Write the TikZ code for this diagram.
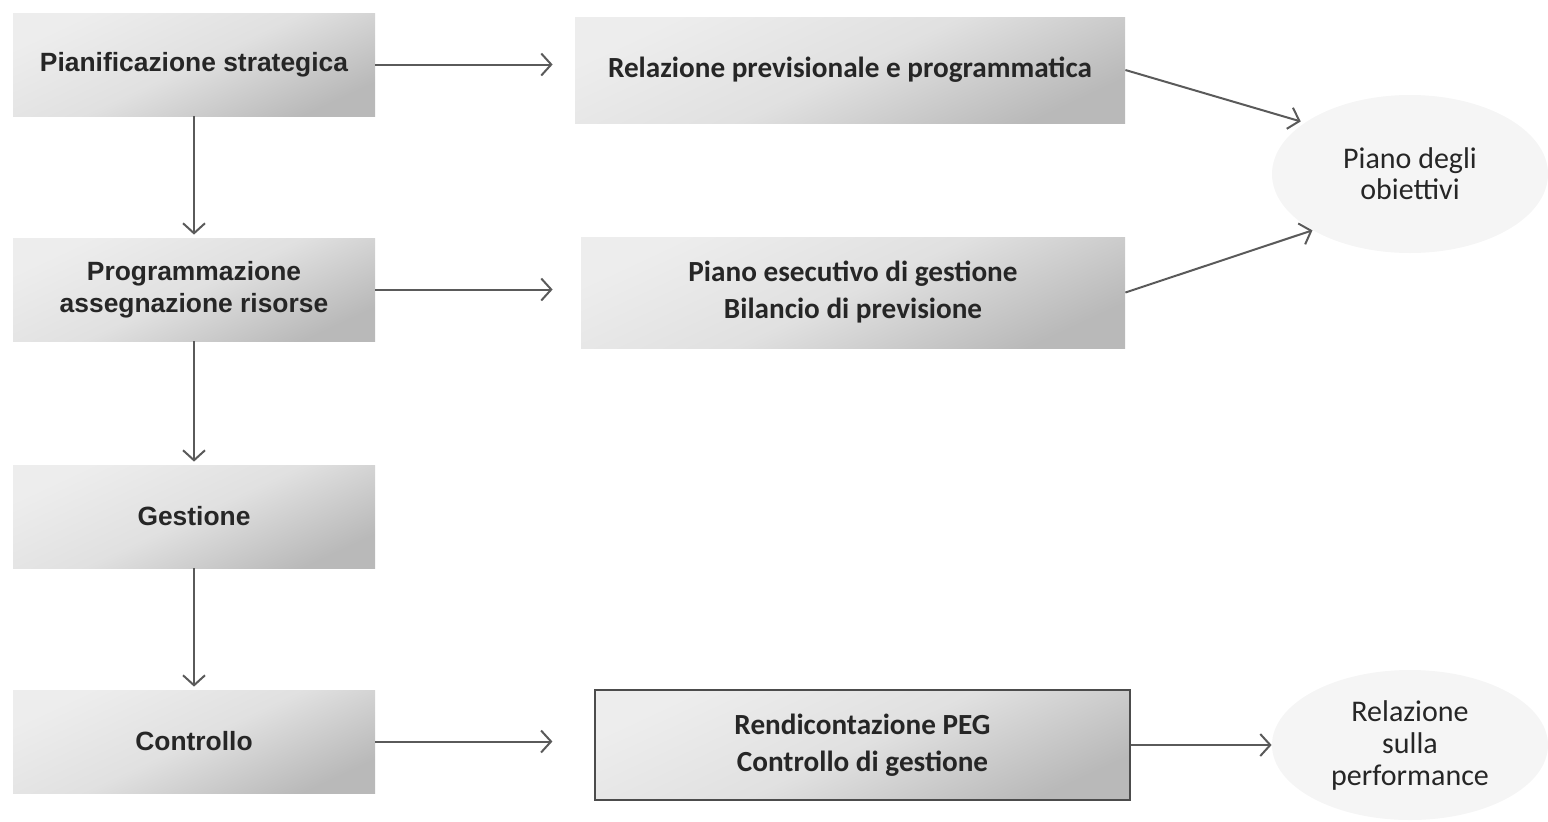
\documentclass[tikz,border=0pt]{standalone}
\usepackage{fontspec}
\usetikzlibrary{arrows.meta,shapes.geometric}
\newfontfamily\lsans{Liberation Sans}
\newfontfamily\carl{Carlito}
\definecolor{txt}{HTML}{262626}
\definecolor{arr}{HTML}{5A5A5A}
\definecolor{ellfill}{HTML}{F5F5F5}
\begin{document}
\begin{tikzpicture}[x=0.5pt,y=-0.5pt,
  gbox/.style={rectangle, inner sep=0pt, align=center, text=txt,
    top color=gray!14, bottom color=gray!55, middle color=gray!24, shading angle=25},
  lbox/.style={gbox, font=\lsans\bfseries\fontsize{13.2}{16}\selectfont, minimum width=181pt, minimum height=51.5pt},
  rbox/.style={gbox, font=\carl\bfseries\fontsize{14.6}{18.5}\selectfont},
  oval/.style={ellipse, fill=ellfill, draw=none, inner sep=0pt, align=center, text=txt,
    font=\carl\fontsize{15}{15.5}\selectfont},
  conn/.style={draw=arr, line width=1pt, -{Straight Barb[length=5pt,width=11pt,line width=1pt]}}
]
\useasboundingbox (0,0) rectangle (1548,821);
\node[lbox] (b1) at (194,64.5) {Pianificazione strategica};
\node[lbox] (b2) at (194,289.5) {Programmazione\\assegnazione risorse};
\node[lbox] (b3) at (194,516.5) {Gestione};
\node[lbox] (b4) at (194,741.5) {Controllo};
\node[rbox, minimum width=275pt, minimum height=53pt] (rel) at (850,70) {Relazione previsionale e programmatica};
\node[rbox, minimum width=272pt, minimum height=55.5pt] (peg) at (853,292.5) {Piano esecutivo di gestione\\Bilancio di previsione};
\node[rbox, draw=gray!60!black, line width=0.6pt, minimum width=267.5pt, minimum height=55pt] (rend) at (862.5,745) {Rendicontazione PEG\\Controllo di gestione};
\node[oval, minimum width=138pt, minimum height=79pt] (ell1) at (1410,174) {Piano degli\\obiettivi};
\node[oval, minimum width=138pt, minimum height=75pt, font=\carl\fontsize{15}{16}\selectfont] (ell2) at (1410,745) {Relazione\\sulla\\performance};
\draw[conn, shorten >=11pt] (b1.east) -- (b1.east -| rel.west);
\draw[conn, shorten >=14pt] (b2.east) -- (b2.east -| peg.west);
\draw[conn, shorten >=21pt] (b4.east) -- (b4.east -| rend.west);
\draw[conn, shorten >=1.5pt] (b1.south) -- (b2.north);
\draw[conn, shorten >=1.5pt] (b2.south) -- (b3.north);
\draw[conn, shorten >=1.5pt] (b3.south) -- (b4.north);
\draw[conn, shorten >=2pt] (rel.east) -- (ell1.154);
\draw[conn] (peg.east) -- (ell1.210);
\draw[conn] (rend.east) -- (ell2.west);
\end{tikzpicture}
\end{document}
